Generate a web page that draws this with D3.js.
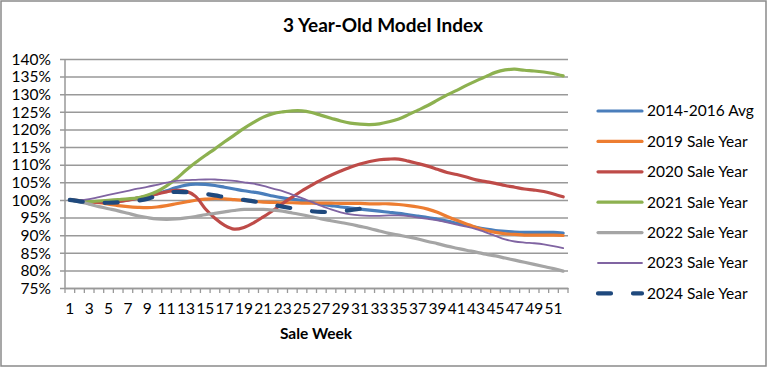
<!DOCTYPE html>
<html>
<head>
<meta charset="utf-8">
<script src="https://cdn.jsdelivr.net/npm/d3@7"></script>
<style>
  body { margin: 0; background: #fff; }
  text { font-family: Lato, "Open Sans", sans-serif; fill: #000; }
</style>
</head>
<body>
<div id="chart"></div>
<script>
// weekly index values, week 1..52 (2024 only runs to week 33)
var weeks = d3.range(1, 53);
var yTicks = [75, 80, 85, 90, 95, 100, 105, 110, 115, 120, 125, 130, 135, 140];

var avg1416 = [100, 99.8, 99.6, 99.4, 99.4, 99.6, 100, 100.5, 101, 101.7, 102.6, 103.5, 104.2, 104.5, 104.4, 104.1, 103.6, 103.1, 102.6, 102.2, 101.7, 101.1, 100.6, 100.2, 99.8, 99.3, 98.8, 98.4, 98, 97.7, 97.4, 97.1, 96.8, 96.5, 96.2, 95.8, 95.4, 95, 94.5, 94, 93.4, 92.8, 92.2, 91.7, 91.3, 91.1, 90.9, 90.8, 90.8, 90.8, 90.8, 90.6];
var sale2019 = [100, 99.8, 99.5, 99.2, 98.8, 98.4, 98.1, 97.9, 97.8, 98, 98.4, 98.9, 99.4, 99.9, 100.2, 100.4, 100.3, 100.1, 99.9, 99.6, 99.4, 99.3, 99.2, 99.2, 99.1, 99.1, 99.1, 99.1, 99, 99, 99, 98.9, 98.9, 98.9, 98.7, 98.4, 98, 97.4, 96.5, 95.3, 94.2, 93.2, 92.2, 91.4, 90.8, 90.4, 90.2, 90, 90, 90, 90, 89.9];
var sale2020 = [100, 99.7, 99.5, 99.3, 99.3, 99.5, 99.9, 100.5, 101.1, 101.7, 102.3, 102.7, 102.5, 101, 97.5, 94.8, 92.8, 91.7, 92.2, 93.5, 95.2, 97, 99, 100.8, 102.6, 104.2, 105.7, 107, 108.2, 109.3, 110.2, 110.9, 111.4, 111.6, 111.6, 111, 110.3, 109.6, 108.7, 107.8, 107.2, 106.5, 105.7, 105.2, 104.7, 104.1, 103.6, 103.1, 102.8, 102.4, 101.7, 100.9];
var sale2021 = [100, 99.6, 99.5, 99.7, 99.9, 100.1, 100.3, 100.6, 101.3, 102.4, 104, 106, 108.4, 110.6, 112.6, 114.5, 116.5, 118.4, 120.3, 122, 123.5, 124.5, 125, 125.3, 125.3, 124.8, 124, 123.2, 122.4, 121.8, 121.5, 121.4, 121.6, 122.2, 123, 124.2, 125.5, 126.8, 128.3, 129.8, 131.1, 132.5, 133.8, 135, 136.2, 136.9, 137.1, 136.8, 136.6, 136.3, 135.9, 135.2];
var sale2022 = [100, 99.5, 98.8, 98.1, 97.5, 96.9, 96.2, 95.5, 95, 94.6, 94.5, 94.6, 94.9, 95.3, 95.8, 96.2, 96.6, 97, 97.3, 97.3, 97.3, 97.1, 96.8, 96.3, 95.8, 95.2, 94.6, 94.1, 93.6, 93.1, 92.5, 91.9, 91.2, 90.5, 90, 89.5, 88.9, 88.2, 87.6, 86.9, 86.3, 85.7, 85.2, 84.6, 84.1, 83.5, 82.9, 82.3, 81.7, 81.1, 80.5, 79.8];
var sale2023 = [100, 99.9, 100.2, 100.8, 101.4, 102, 102.6, 103.2, 103.7, 104.3, 104.9, 105.4, 105.6, 105.7, 105.8, 105.8, 105.6, 105.4, 105, 104.6, 104, 103.2, 102.5, 101.5, 100.5, 99.4, 98.3, 97.3, 96.5, 95.9, 95.6, 95.5, 95.5, 95.6, 95.6, 95.4, 95, 94.6, 94.2, 93.6, 93, 92.4, 91.7, 90.8, 89.8, 88.8, 88.2, 87.9, 87.7, 87.4, 86.9, 86.3];
var sale2024 = [100, 99.6, 99.3, 99.2, 99.2, 99.3, 99.5, 99.8, 100.3, 101.2, 102, 102.3, 102.2, 102, 101.7, 101.3, 100.8, 100.4, 100, 99.6, 99.1, 98.6, 98.1, 97.6, 97.1, 96.8, 96.6, 96.6, 96.8, 97.1, 97.5, 97.9, 98.2];

var seriesNames = ["2014-2016 Avg", "2019 Sale Year", "2020 Sale Year", "2021 Sale Year", "2022 Sale Year", "2023 Sale Year", "2024 Sale Year"];
var seriesValues = [avg1416, sale2019, sale2020, sale2021, sale2022, sale2023, sale2024];
var colors = ["#4a7ebb", "#ed7d31", "#be4b48", "#8db150", "#a5a5a5", "#8064a2", "#1f497d"];
var widths = [3.2, 3.2, 3.2, 3.2, 3.2, 1.8, 4.2];

var svgWidth = 768, svgHeight = 368;
var plot = { left: 65, right: 568, top: 59, bottom: 288 };

var svg = d3.select("#chart").append("svg").attr("width", svgWidth).attr("height", svgHeight);

svg.append("rect").attr("x", 1).attr("y", 1).attr("width", 765).attr("height", 365)
  .attr("fill", "#fff").attr("stroke", "#8a8a8a").attr("stroke-width", 1.5);

var xScale = d3.scaleBand().domain(weeks).range([plot.left, plot.right]).paddingInner(0).paddingOuter(0);
var yScale = d3.scaleLinear().domain([75, 140]).range([plot.bottom, plot.top]);

// gridlines + y axis
var leftAxis = d3.axisLeft(yScale).tickValues(yTicks).tickSize(plot.right - plot.left + 5).tickPadding(9)
  .tickFormat(d => d + "%");
var yAxisG = svg.append("g").attr("transform", `translate(${plot.right},0)`).call(leftAxis);
yAxisG.select(".domain").remove();
yAxisG.selectAll("line").attr("stroke", "#999").attr("stroke-width", 1.5);
yAxisG.selectAll("text").attr("font-size", "15.5px").attr("fill", "#000").attr("dy", "0.34em");

svg.append("line").attr("x1", plot.left).attr("x2", plot.left).attr("y1", plot.top).attr("y2", plot.bottom)
  .attr("stroke", "#999").attr("stroke-width", 1.5);

// x axis: category ticks at boundaries, labels every other week
var boundaries = weeks.map(w => xScale(w)).concat([plot.right]);
svg.append("g").selectAll("line").data(boundaries).enter().append("line")
  .attr("x1", d => d).attr("x2", d => d).attr("y1", plot.bottom).attr("y2", plot.bottom + 5)
  .attr("stroke", "#999").attr("stroke-width", 1.3);

var bottomAxis = d3.axisBottom(xScale).tickValues(weeks.filter(w => w % 2 == 1)).tickSize(0).tickPadding(15);
var xAxisG = svg.append("g").attr("transform", `translate(0,${plot.bottom})`).call(bottomAxis);
xAxisG.select(".domain").attr("stroke", "#999").attr("stroke-width", 1.5);
xAxisG.selectAll("text").attr("font-size", "15.5px").attr("fill", "#000");

// series
var line = d3.line()
  .x((d, i) => xScale(weeks[i]) + xScale.bandwidth() / 2)
  .y(d => yScale(d))
  .curve(d3.curveCatmullRom.alpha(0.5));

seriesValues.forEach(function(vals, k) {
  var p = svg.append("path").attr("d", line(vals)).attr("fill", "none")
    .attr("stroke", colors[k]).attr("stroke-width", widths[k])
    .attr("stroke-linejoin", "round").attr("stroke-linecap", "round");
  if (k == 6) p.attr("stroke-dasharray", "13,22");
});

// title
svg.append("text").attr("x", 383).attr("y", 32).attr("text-anchor", "middle")
  .attr("font-size", "19px").attr("font-weight", "bold").text("3 Year-Old Model Index");

svg.append("text").attr("x", 316).attr("y", 339).attr("text-anchor", "middle")
  .attr("font-size", "15.5px").attr("font-weight", "bold").text("Sale Week");

// legend
var legend = svg.append("g").selectAll("g").data(seriesNames).enter().append("g")
  .attr("transform", (d, i) => `translate(0,${111 + i * 30.4})`);
legend.append("line").attr("x1", 598).attr("x2", 642).attr("y1", 0).attr("y2", 0)
  .attr("stroke", (d, i) => colors[i]).attr("stroke-width", (d, i) => widths[i])
  .attr("stroke-linecap", "round")
  .attr("stroke-dasharray", (d, i) => i == 6 ? "13,22" : null);
legend.append("text").attr("x", 647).attr("y", 0).attr("dy", "0.35em")
  .attr("font-size", "15.5px").text(d => d);
</script>
</body>
</html>
